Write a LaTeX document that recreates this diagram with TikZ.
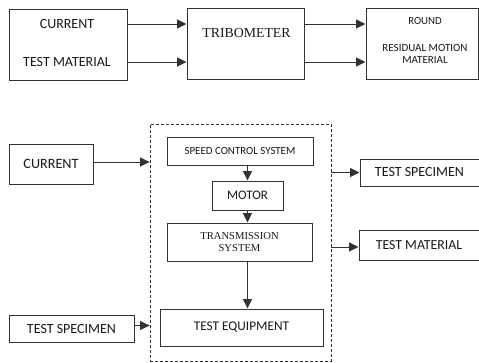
\documentclass[tikz,border=0pt]{standalone}
\usepackage{fontspec}
\setmainfont{Carlito}
\newfontfamily\serifface{Liberation Serif}
\usetikzlibrary{arrows.meta}
\definecolor{edge}{RGB}{50,50,50}
\definecolor{ink}{RGB}{25,25,25}
\newcommand{\fs}[1]{\fontsize{#1}{#1}\selectfont}
\begin{document}
\begin{tikzpicture}[x=1pt,y=-1pt,
  box/.style={draw=edge,line width=1pt,inner sep=0pt,text=ink,align=center},
  plain/.style={inner sep=0pt,text=ink,align=center},
  flow/.style={draw=edge,line width=1pt,-{Triangle[length=9.5pt,width=9pt]}}]
\useasboundingbox (0,0) rectangle (479,362);

% ---- upper chain: inputs -> tribometer -> outputs ----
\node[box,minimum width=118,minimum height=71] (inbox) at (68,44.5) {};
\node[plain,font=\fs{14}] (incur) at (67,24) {CURRENT};
\node[plain,font=\fs{14}] (inmat) at (67,62) {TEST MATERIAL};

\node[box,minimum width=117,minimum height=71] (tribo) at (245.5,43.5) {};
\node[plain,font=\serifface\fs{13.8}] (tribotxt) at (246.5,33) {TRIBOMETER};

\node[box,minimum width=112,minimum height=71] (outbox) at (422,43.5) {};
\node[plain,font=\fs{10.8}] (round) at (425,21) {ROUND};
\node[plain,font=\fs{11}] (resid) at (425,54) {RESIDUAL MOTION\\[1pt]MATERIAL};

\draw[flow] (inbox.east |- incur) -- (tribo.west |- incur);
\draw[flow] (inbox.east |- inmat) -- (tribo.west |- inmat);
\draw[flow] (tribo.east |- incur) -- (outbox.west |- incur);
\draw[flow] (tribo.east |- inmat) -- (outbox.west |- inmat);

% ---- lower chain: the tribometer's internal system ----
\node[draw=edge,line width=0.8pt,dash pattern=on 3pt off 2pt,inner sep=0pt,
      minimum width=181,minimum height=237] (sys) at (240.5,242.5) {};

\node[box,minimum width=146,minimum height=28,font=\fs{10.9}] (speed) at (240,151) {SPEED CONTROL SYSTEM};
\node[box,minimum width=71,minimum height=29,font=\fs{13}] (motor) at (247.5,195.5) {MOTOR};
\node[box,minimum width=145,minimum height=38,font=\serifface\fs{10.6}] (trans) at (239.5,242) {TRANSMISSION\\[1pt]SYSTEM};
\node[box,minimum width=163,minimum height=37,font=\fs{13.3}] (equip) at (241.5,327.5) {TEST EQUIPMENT};

\draw[flow] (speed.south -| motor) -- (motor.north);
\draw[flow] (motor.south) -- (trans.north -| motor);
\draw[flow] (trans.south -| motor) -- (equip.north -| motor);

\node[box,minimum width=84,minimum height=40,font=\fs{14.2}] (cur) at (51,164) {CURRENT};
\node[box,minimum width=125,minimum height=27,font=\fs{14}] (specin) at (71.5,328.5) {TEST SPECIMEN};
\node[box,minimum width=119,minimum height=27,font=\fs{14}] (specout) at (419.5,172.5) {TEST SPECIMEN};
\node[box,minimum width=120,minimum height=30,font=\fs{13.8}] (matout) at (419,245) {TEST MATERIAL};

\draw[flow] (cur.east) ++(0,-2) -- (sys.west |- 0,162);
\draw[flow] (specin.east) ++(0,-3) -- (sys.west |- 0,325.5);
\draw[flow] (sys.east |- specout) -- (specout.west);
\draw[flow] (sys.east |- 0,247) -- (matout.west |- 0,247);
\end{tikzpicture}
\end{document}
